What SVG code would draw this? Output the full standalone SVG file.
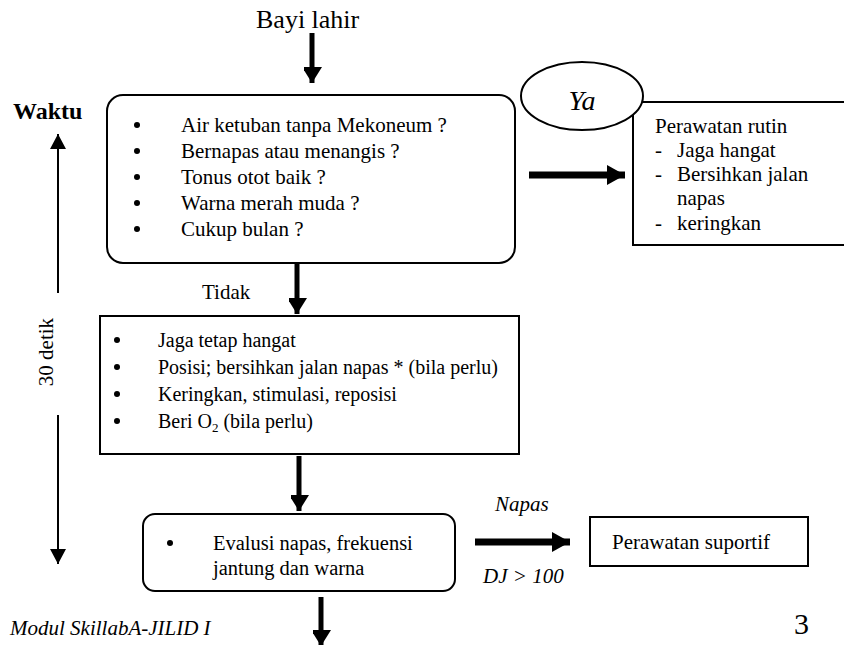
<svg xmlns="http://www.w3.org/2000/svg" width="844" height="645" viewBox="0 0 844 645">
<style>
  text { font-family: "Liberation Serif", "DejaVu Serif", "Noto Serif", serif; font-size: 21px; fill: #000; }
  .it { font-style: italic; }
  .sm { font-size: 20px; }
  .box { fill: #fff; stroke: #000; stroke-width: 2; }
  .bold { stroke: #000; stroke-width: 5; fill: none; }
  .wide { stroke: #000; stroke-width: 7; fill: none; }
  .thin { stroke: #000; stroke-width: 2; fill: none; }
  .dot { fill: #000; }
</style>
<defs>
  <marker id="hv" markerUnits="userSpaceOnUse" markerWidth="22" markerHeight="18" refX="16" refY="10" orient="auto">
    <path d="M0,0 L16,10 L0,20 Z" fill="#000"/>
  </marker>
  <marker id="hw" markerUnits="userSpaceOnUse" markerWidth="20" markerHeight="22" refX="18" refY="10" orient="auto">
    <path d="M0,0 L18,10 L0,20 Z" fill="#000"/>
  </marker>
  <marker id="ht" markerUnits="userSpaceOnUse" markerWidth="16" markerHeight="16" refX="15" refY="8" orient="auto">
    <path d="M0,0 L15,8 L0,16 Z" fill="#000"/>
  </marker>
</defs>

<g id="title">
  <text x="256" y="28" style="font-size:26px">Bayi lahir</text>
</g>

<g id="timeline">
  <text x="13" y="119" style="font-size:24px;font-weight:bold">Waktu</text>
  <line class="thin" x1="58" y1="293" x2="58" y2="134" marker-end="url(#ht)"/>
  <text transform="translate(53,352) rotate(-90)" text-anchor="middle">30 detik</text>
  <line class="thin" x1="58" y1="415" x2="58" y2="564" marker-end="url(#ht)"/>
</g>

<g id="check">
  <rect class="box" x="107" y="95" width="408" height="168" rx="16" ry="16"/>
  <circle class="dot" cx="137" cy="125" r="3"/>
  <circle class="dot" cx="137" cy="151" r="3"/>
  <circle class="dot" cx="137" cy="177" r="3"/>
  <circle class="dot" cx="137" cy="203" r="3"/>
  <circle class="dot" cx="137" cy="229" r="3"/>
  <text x="181" y="132">Air ketuban tanpa Mekoneum ?</text>
  <text x="181" y="158">Bernapas atau menangis ?</text>
  <text x="181" y="184">Tonus otot baik ?</text>
  <text x="181" y="210">Warna merah muda ?</text>
  <text x="181" y="236">Cukup bulan ?</text>
</g>

<g id="routine">
  <rect class="box" x="633" y="102" width="220" height="143"/>
  <text x="655" y="133">Perawatan rutin</text>
  <text x="655" y="157">-</text><text x="677" y="157">Jaga hangat</text>
  <text x="655" y="181">-</text><text x="677" y="181">Bersihkan jalan</text>
  <text x="677" y="205">napas</text>
  <text x="655" y="230">-</text><text x="677" y="230">keringkan</text>
</g>

<g id="ya">
  <ellipse class="box" cx="582" cy="96" rx="61" ry="34"/>
  <text x="582" y="110" text-anchor="middle" class="it" style="font-size:28px">Ya</text>
</g>

<g id="steps">
  <rect class="box" x="100" y="316" width="419" height="138"/>
  <circle class="dot" cx="117" cy="340" r="3"/>
  <circle class="dot" cx="117" cy="367" r="3"/>
  <circle class="dot" cx="117" cy="394" r="3"/>
  <circle class="dot" cx="117" cy="421" r="3"/>
  <text class="sm" x="158" y="347">Jaga tetap hangat</text>
  <text class="sm" x="158" y="374">Posisi; bersihkan jalan napas * (bila perlu)</text>
  <text class="sm" x="158" y="401">Keringkan, stimulasi, reposisi</text>
  <text class="sm" x="158" y="428">Beri O<tspan style="font-size:13px" dy="4">2</tspan><tspan dy="-4"> (bila perlu)</tspan></text>
</g>

<g id="evaluate">
  <rect class="box" x="143" y="514" width="312" height="77" rx="12" ry="12"/>
  <circle class="dot" cx="170" cy="543" r="3"/>
  <text x="213" y="550" style="font-size:20.5px">Evalusi napas, frekuensi</text>
  <text x="213" y="575" style="font-size:20.5px">jantung dan warna</text>
</g>

<g id="supportive">
  <rect class="box" x="590" y="517" width="218" height="49"/>
  <text x="612" y="549">Perawatan suportif</text>
</g>

<g id="connectors">
  <line class="bold" x1="312" y1="33" x2="312" y2="83" marker-end="url(#hv)"/>
  <line class="bold" x1="297" y1="263" x2="297" y2="314" marker-end="url(#hv)"/>
  <text x="202" y="299">Tidak</text>
  <line class="wide" x1="529" y1="175" x2="625" y2="175" marker-end="url(#hw)"/>
  <line class="bold" x1="299" y1="456" x2="299" y2="511" marker-end="url(#hv)"/>
  <line class="wide" x1="475" y1="542" x2="570" y2="542" marker-end="url(#hw)"/>
  <text x="495" y="511" class="it">Napas</text>
  <text x="483" y="583" class="it">DJ &gt; 100</text>
  <line class="bold" x1="321" y1="597" x2="321" y2="646" marker-end="url(#hv)"/>
</g>

<g id="footer">
  <text x="10" y="635" class="it">Modul SkillabA-JILID I</text>
  <text x="794" y="634" style="font-size:30px">3</text>
</g>
</svg>
